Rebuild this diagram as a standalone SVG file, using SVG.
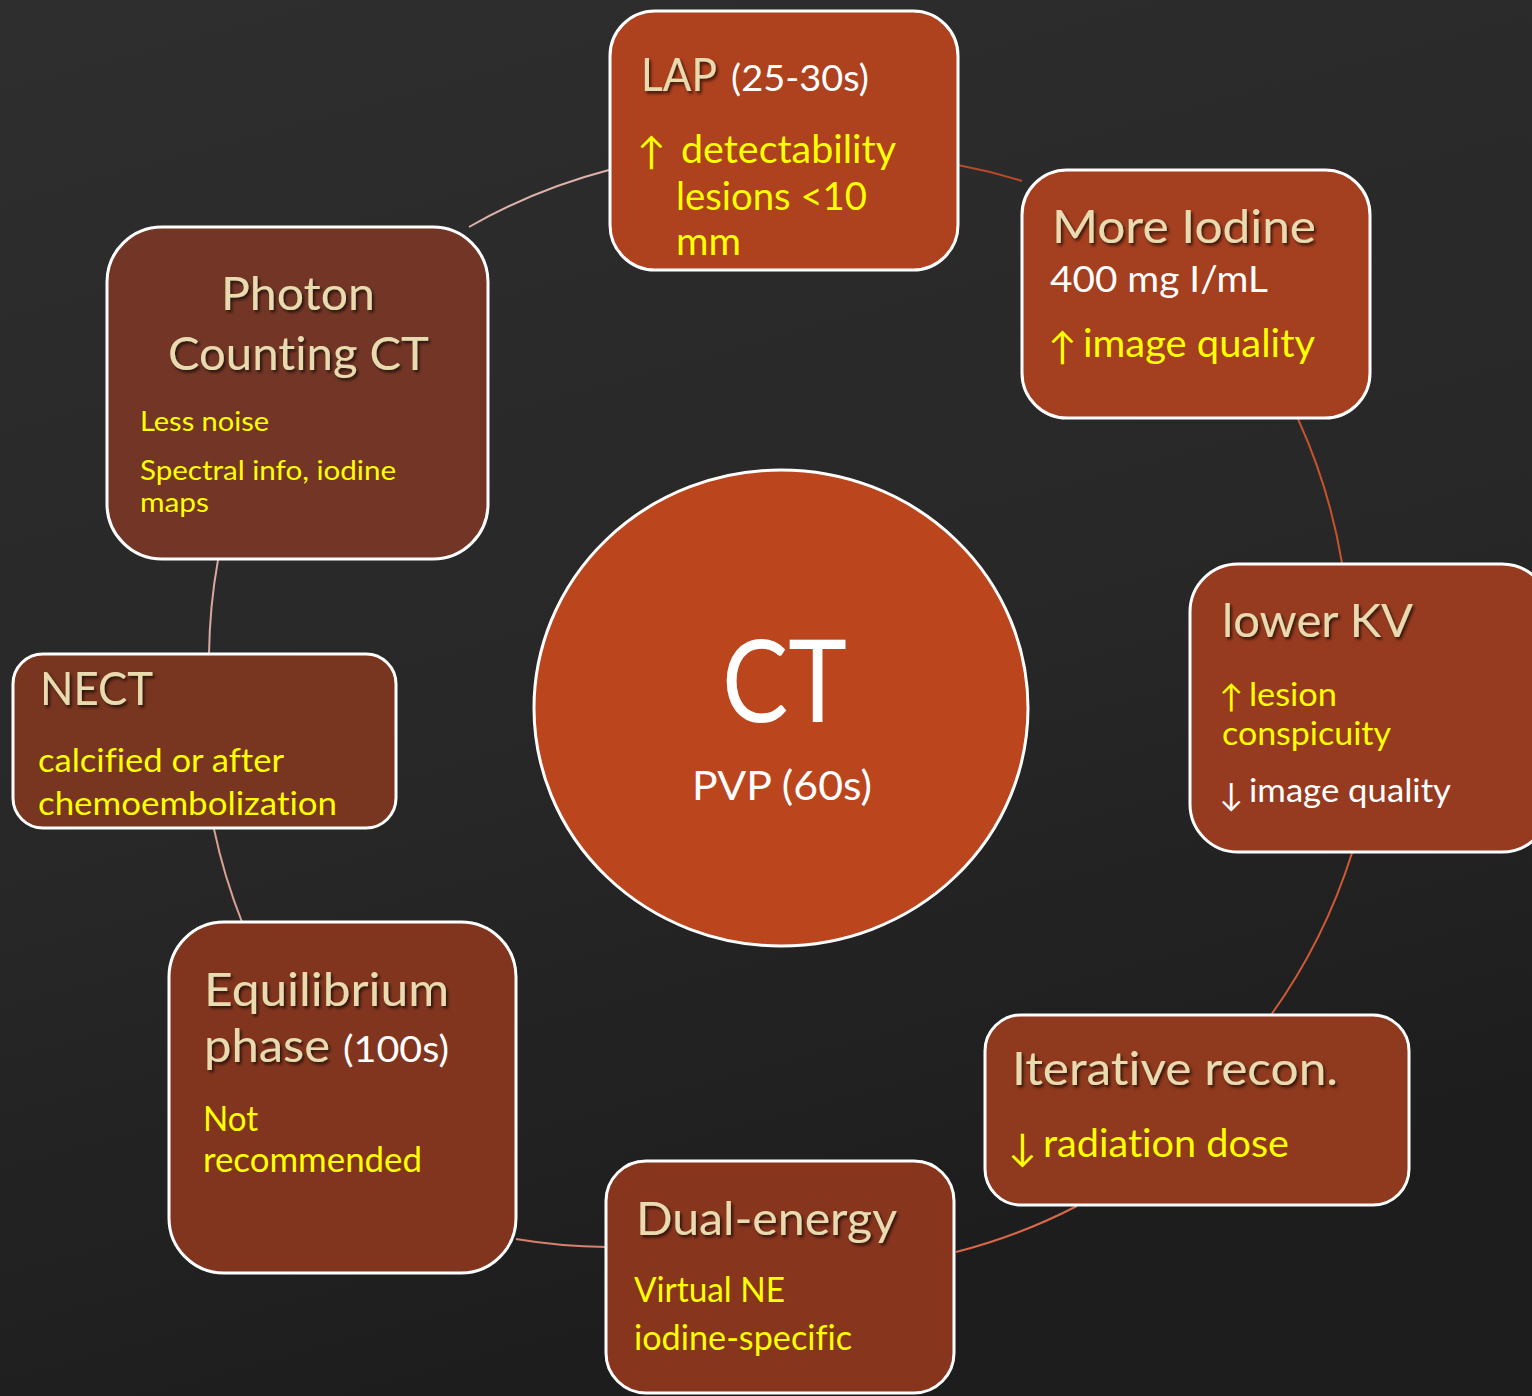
<svg xmlns="http://www.w3.org/2000/svg" width="1532" height="1396" viewBox="0 0 1532 1396">
<defs>
<linearGradient id="bg" x1="0" y1="0" x2="0.3" y2="1">
<stop offset="0" stop-color="#2E2E2F"/>
<stop offset="0.6" stop-color="#272728"/>
<stop offset="1" stop-color="#1D1D1E"/>
</linearGradient>
<filter id="sh" x="-10%" y="-20%" width="130%" height="150%">
<feDropShadow dx="2" dy="2.5" stdDeviation="1.5" flood-color="#000" flood-opacity="0.65"/>
</filter>
<style>
.box{stroke:#FFFFFF;stroke-width:3}
.t{font-family:Lato,"Open Sans","Liberation Sans",sans-serif;font-variant-ligatures:none}
.ti{font-size:47px;fill:#E8DBB0;filter:url(#sh)}
.y{fill:#FFFF00}
.w{fill:#FFFFFF}
.con{fill:none;stroke-width:2}
</style>
</defs>
<rect x="0" y="0" width="1532" height="1396" fill="url(#bg)"/>

<g id="connectors">
<path class="con" stroke="#DDB3AA" d="M469,227 A573,573 0 0 1 609,170"/>
<path class="con" stroke="#B84A28" d="M958,165 A573,573 0 0 1 1022,181"/>
<path class="con" stroke="#C4532C" d="M1298,419 A573,573 0 0 1 1342,563"/>
<path class="con" stroke="#D05A35" d="M1352,853 A573,573 0 0 1 1271,1015"/>
<path class="con" stroke="#D86848" d="M1077,1206 A573,573 0 0 1 956,1252"/>
<path class="con" stroke="#D8806E" d="M606,1247 A573,573 0 0 1 516,1239"/>
<path class="con" stroke="#D8A090" d="M242,922 A573,573 0 0 1 214,829"/>
<path class="con" stroke="#D8A8A0" d="M209,654 A573,573 0 0 1 218,560"/>
</g>

<g id="ct-center">
<ellipse cx="781" cy="708" rx="247" ry="238" fill="#BB461E" stroke="#FFFFFF" stroke-width="3"/>
<text class="t w" x="722" y="722" font-size="115" textLength="125" lengthAdjust="spacingAndGlyphs">CT</text>
<text class="t w" x="692" y="800" font-size="40" textLength="180" lengthAdjust="spacingAndGlyphs">PVP (60s)</text>
</g>

<g id="lap">
<rect class="box" x="610" y="11" width="348" height="259" rx="45" fill="#AE411E"/>
<text class="t ti" x="641" y="91" textLength="76" lengthAdjust="spacingAndGlyphs">LAP</text>
<text class="t w" x="731" y="91" font-size="36" textLength="138" lengthAdjust="spacingAndGlyphs">(25-30s)</text>
<text class="t y" x="637" y="165" font-size="38">↑</text>
<text class="t y" x="681" y="163" font-size="38" textLength="215" lengthAdjust="spacingAndGlyphs">detectability</text>
<text class="t y" x="676" y="210" font-size="38" textLength="191" lengthAdjust="spacingAndGlyphs">lesions &lt;10</text>
<text class="t y" x="676" y="255" font-size="38" textLength="65" lengthAdjust="spacingAndGlyphs">mm</text>
</g>

<g id="more-iodine">
<rect class="box" x="1022" y="170" width="348" height="248" rx="45" fill="#A43F20"/>
<text class="t ti" x="1052" y="243" textLength="264" lengthAdjust="spacingAndGlyphs">More Iodine</text>
<text class="t w" x="1050" y="292" font-size="36" textLength="218" lengthAdjust="spacingAndGlyphs">400 mg I/mL</text>
<text class="t y" x="1048" y="360" font-size="38">↑</text>
<text class="t y" x="1083" y="357" font-size="38" textLength="232" lengthAdjust="spacingAndGlyphs">image quality</text>
</g>

<g id="lower-kv">
<rect class="box" x="1190" y="564" width="360" height="288" rx="48" fill="#973B20"/>
<text class="t ti" x="1222" y="637" textLength="191" lengthAdjust="spacingAndGlyphs">lower KV</text>
<text class="t y" x="1219" y="708" font-size="32">↑</text>
<text class="t y" x="1249" y="706" font-size="32" textLength="88" lengthAdjust="spacingAndGlyphs">lesion</text>
<text class="t y" x="1222" y="745" font-size="32" textLength="169" lengthAdjust="spacingAndGlyphs">conspicuity</text>
<text class="t w" x="1219" y="806" font-size="32">↓</text>
<text class="t w" x="1249" y="802" font-size="32" textLength="202" lengthAdjust="spacingAndGlyphs">image quality</text>
</g>

<g id="iterative">
<rect class="box" x="985" y="1015" width="424" height="190" rx="36" fill="#8F391E"/>
<text class="t ti" x="1012" y="1085" textLength="326" lengthAdjust="spacingAndGlyphs">Iterative recon.</text>
<text class="t y" x="1008" y="1161" font-size="38">↓</text>
<text class="t y" x="1043" y="1157" font-size="38" textLength="246" lengthAdjust="spacingAndGlyphs">radiation dose</text>
</g>

<g id="dual-energy">
<rect class="box" x="606" y="1161" width="348" height="232" rx="40" fill="#88351E"/>
<text class="t ti" x="636" y="1235" textLength="261" lengthAdjust="spacingAndGlyphs">Dual-energy</text>
<text class="t y" x="634" y="1302" font-size="34" textLength="151" lengthAdjust="spacingAndGlyphs">Virtual NE</text>
<text class="t y" x="634" y="1350" font-size="34" textLength="218" lengthAdjust="spacingAndGlyphs">iodine-specific</text>
</g>

<g id="equilibrium">
<rect class="box" x="169" y="922" width="347" height="351" rx="55" fill="#82351E"/>
<text class="t ti" x="204" y="1006" textLength="245" lengthAdjust="spacingAndGlyphs">Equilibrium</text>
<text class="t ti" x="204" y="1062" textLength="126" lengthAdjust="spacingAndGlyphs">phase</text>
<text class="t w" x="343" y="1062" font-size="36" textLength="106" lengthAdjust="spacingAndGlyphs">(100s)</text>
<text class="t y" x="203" y="1131" font-size="34" textLength="55" lengthAdjust="spacingAndGlyphs">Not</text>
<text class="t y" x="203" y="1172" font-size="34" textLength="219" lengthAdjust="spacingAndGlyphs">recommended</text>
</g>

<g id="nect">
<rect class="box" x="13" y="654" width="383" height="174" rx="30" fill="#78351F"/>
<text class="t ti" x="40" y="705" textLength="113" lengthAdjust="spacingAndGlyphs">NECT</text>
<text class="t y" x="38" y="772" font-size="32" textLength="246" lengthAdjust="spacingAndGlyphs">calcified or after</text>
<text class="t y" x="38" y="815" font-size="32" textLength="299" lengthAdjust="spacingAndGlyphs">chemoembolization</text>
</g>

<g id="photon-counting">
<rect class="box" x="107" y="227" width="381" height="332" rx="55" fill="#733626"/>
<text class="t ti" x="221" y="310" textLength="154" lengthAdjust="spacingAndGlyphs">Photon</text>
<text class="t ti" x="168" y="370" textLength="261" lengthAdjust="spacingAndGlyphs">Counting CT</text>
<text class="t y" x="140" y="431" font-size="27" textLength="129" lengthAdjust="spacingAndGlyphs">Less noise</text>
<text class="t y" x="140" y="480" font-size="27" textLength="256" lengthAdjust="spacingAndGlyphs">Spectral info, iodine</text>
<text class="t y" x="140" y="512" font-size="27" textLength="69" lengthAdjust="spacingAndGlyphs">maps</text>
</g>
</svg>
